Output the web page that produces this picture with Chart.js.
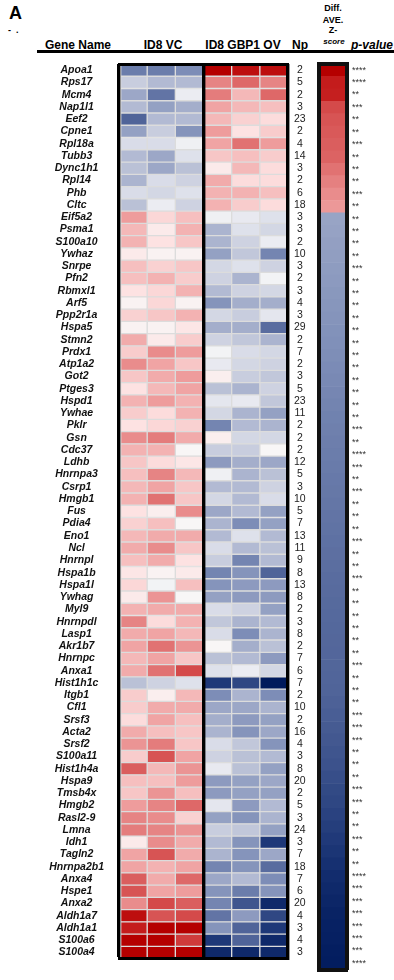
<!DOCTYPE html>
<html>
<head>
<meta charset="utf-8">
<script src="https://cdn.jsdelivr.net/npm/chart.js@4.4.0/dist/chart.umd.min.js"></script>
<style>
  body { margin: 0; background: #fff; font-family: 'Liberation Sans', Arial, Helvetica, sans-serif; }
  #wrap { position: relative; width: 394px; height: 980px; overflow: hidden; }
  .hd { position: absolute; font-weight: bold; font-size: 12px; line-height: 12px; color: #000; white-space: nowrap; transform: translateX(-50%); }
  .sm { font-size: 9px; line-height: 10px; }
  #rule { position: absolute; left: 37px; top: 50px; width: 357px; height: 3px; background: #000; }
  #heat { position: absolute; left: 0; top: 0; }
  #diff { position: absolute; left: 314px; top: 0; }
</style>
</head>
<body>
<div id="wrap">
  <div class="hd" style="top:4px;font-size:18px;line-height:18px;transform:none;left:9px;">A</div>
  <div class="hd" style="left:8px;top:24px;font-size:9px;transform:none;">-&nbsp;&nbsp;.</div>
  <div class="hd" style="left:78px;top:39px;">Gene Name</div>
  <div class="hd" style="left:163px;top:39px;">ID8 VC</div>
  <div class="hd" style="left:243px;top:39px;">ID8 GBP1 OV</div>
  <div class="hd" style="left:300px;top:39px;">Np</div>
  <div class="hd sm" style="left:333px;top:3px;">Diff.</div>
  <div class="hd sm" style="left:333px;top:15px;">AVE.</div>
  <div class="hd sm" style="left:333px;top:25px;">Z-</div>
  <div class="hd sm" style="left:334px;top:37px;font-size:8px;font-style:italic;">score</div>
  <div class="hd" style="left:351px;top:39px;transform:none;font-style:italic;">p-value</div>
  <div id="rule"></div>
  <canvas id="heat" width="314" height="980"></canvas>
  <canvas id="diff" width="80" height="980"></canvas>
</div>
<script>
const genes = ['Apoa1', 'Rps17', 'Mcm4', 'Nap1l1', 'Eef2', 'Cpne1', 'Rpl18a', 'Tubb3', 'Dync1h1', 'Rpl14',
  'Phb', 'Cltc', 'Eif5a2', 'Psma1', 'S100a10', 'Ywhaz', 'Snrpe', 'Pfn2', 'Rbmxl1', 'Arf5',
  'Ppp2r1a', 'Hspa5', 'Stmn2', 'Prdx1', 'Atp1a2', 'Got2', 'Ptges3', 'Hspd1', 'Ywhae', 'Pklr',
  'Gsn', 'Cdc37', 'Ldhb', 'Hnrnpa3', 'Csrp1', 'Hmgb1', 'Fus', 'Pdia4', 'Eno1', 'Ncl',
  'Hnrnpl', 'Hspa1b', 'Hspa1l', 'Ywhag', 'Myl9', 'Hnrnpdl', 'Lasp1', 'Akr1b7', 'Hnrnpc', 'Anxa1',
  'Hist1h1c', 'Itgb1', 'Cfl1', 'Srsf3', 'Acta2', 'Srsf2', 'S100a11', 'Hist1h4a', 'Hspa9', 'Tmsb4x',
  'Hmgb2', 'Rasl2-9', 'Lmna', 'Idh1', 'Tagln2', 'Hnrnpa2b1', 'Anxa4', 'Hspe1', 'Anxa2', 'Aldh1a7',
  'Aldh1a1', 'S100a6', 'S100a4'];

// z-scores per replicate (negative = blue, positive = red)
const vc1 = [-2.2,-1.0,-1.6,-1.3,-2.5,-1.7,-0.7,-1.3,-1.2,-1.4,
  -0.7,-1.2,1.6,1.2,1.3,0.3,1.1,1.1,0.5,0.1,
  0.8,0.1,1.4,0.9,1.8,1.0,0.5,1.3,0.9,0.5,
  1.8,1.3,1.0,1.1,1.2,1.3,0.5,0.8,1.2,1.4,
  1.1,0.4,0.7,0.3,1.3,1.9,1.4,1.5,1.2,1.4,
  -1.2,0.9,0.9,0.6,1.4,1.7,0.9,2.3,1.1,1.0,
  1.6,1.9,2.0,0.3,1.5,1.5,2.3,2.4,1.8,2.9,
  2.8,3.0,3.0];
const vc2 = [-2.2,-1.3,-2.3,-1.7,-1.3,-1.0,-0.7,-1.6,-1.6,-0.7,
  -0.8,-0.3,0.7,0.3,0.5,0.1,0.8,1.3,0.7,0.7,
  1.0,0.1,0.3,1.8,1.5,1.4,1.2,1.6,0.6,0.7,
  2.0,1.3,0.6,1.9,1.5,2.1,0.2,1.1,1.4,1.8,
  1.4,0.1,-0.1,1.7,1.4,0.6,1.5,2.1,1.5,2.1,
  -0.9,0.2,1.4,1.5,1.1,2.0,2.4,1.2,1.1,1.7,
  1.9,1.8,1.9,1.8,2.4,1.3,1.4,1.5,2.5,2.4,
  3.0,3.0,3.0];
const vc3 = [-2.0,-1.3,-0.3,-1.5,-1.3,-1.9,-0.2,-0.6,-1.2,-0.9,
  -0.6,-0.9,1.1,1.3,1.0,0.1,1.0,0.9,1.3,0.1,
  1.3,0.4,0.9,1.6,1.0,1.6,1.5,1.3,1.3,0.8,
  1.4,0.0,0.4,1.2,1.0,1.0,1.8,0.0,1.4,1.0,
  0.5,0.3,1.1,0.0,1.4,1.3,1.2,1.7,1.0,2.5,
  -0.6,1.2,1.4,1.1,1.0,1.0,1.5,1.7,1.6,1.1,
  2.2,0.8,1.7,1.4,1.4,1.5,2.2,1.6,2.3,2.5,
  3.0,2.6,3.0];
const ov1 = [3.0,1.9,2.0,1.5,1.2,1.6,1.5,1.0,0.3,1.4,
  1.3,1.3,-0.2,-1.4,-1.4,-1.7,-0.8,-0.9,-1.3,-1.9,
  -0.8,-1.5,-0.9,-0.1,-0.4,0.2,-1.2,-0.5,-0.8,-2.1,
  0.2,-1.0,-1.8,-0.2,-1.3,-0.8,-1.6,-1.4,-1.3,-0.7,
  -1.0,-2.1,-1.9,-1.7,-0.7,-1.1,-0.7,0.0,-1.2,-0.6,
  -2.8,-2.0,-1.6,-1.5,-1.4,-0.7,-0.9,-0.4,-1.8,-1.8,
  -0.5,-1.7,-1.0,-1.3,-1.4,-2.1,-1.6,-1.9,-2.1,-2.3,
  -1.9,-2.8,-2.9];
const ov2 = [2.9,2.2,1.2,1.2,0.8,0.5,2.1,1.1,1.2,0.6,
  1.3,0.9,-0.4,-0.6,-0.9,-1.1,-0.6,-1.4,-0.9,-1.5,
  -1.0,-1.5,-1.1,-0.7,-0.8,-1.0,-1.4,-0.4,-1.4,-1.3,
  -0.8,-1.0,-1.5,-1.4,-1.3,-1.3,-1.3,-2.0,-0.6,-1.3,
  -2.1,-1.9,-1.8,-1.8,-0.9,-1.4,-2.0,-1.5,-1.3,-0.3,
  -2.7,-1.4,-1.6,-1.8,-1.9,-1.1,-1.2,-1.2,-1.7,-1.7,
  -1.8,-1.9,-1.1,-1.9,-1.9,-1.9,-1.3,-2.2,-2.6,-1.8,
  -2.5,-2.5,-2.9];
const ov3 = [2.9,1.9,2.2,1.1,0.6,0.9,1.6,0.9,0.6,0.6,
  1.1,0.6,-0.6,-0.8,-0.3,-2.1,-0.9,-0.1,-0.8,-1.5,
  -0.5,-2.4,-1.4,-0.8,-0.9,-1.1,-0.9,-1.1,-1.7,-1.4,
  -0.8,0.0,-1.6,-1.2,-0.9,-0.7,-1.7,-1.7,-1.3,-1.2,
  -1.3,-2.5,-1.8,-1.8,-1.7,-1.3,-1.4,-1.2,-1.8,-0.8,
  -3.0,-2.0,-1.4,-1.7,-1.6,-1.9,-1.3,-1.7,-1.6,-1.7,
  -1.3,-1.4,-1.7,-2.8,-1.6,-2.4,-2.0,-1.9,-2.9,-2.7,
  -2.8,-2.9,-2.9];

const np = [2,5,2,3,23,2,4,14,3,2,
  6,18,3,3,2,10,3,2,3,4,
  3,29,2,7,2,3,5,23,11,2,
  2,2,12,5,3,10,5,7,13,11,
  9,8,13,8,2,3,8,2,7,6,
  7,2,10,2,16,4,3,8,20,2,
  5,3,24,3,7,18,7,6,20,4,
  3,4,3];

const diffZ = [3.0,2.8,2.78,2.5,2.4,2.35,2.3,2.25,2.1,1.95,
  1.8,1.65,-1.65,-1.68,-1.72,-1.75,-1.78,-1.81,-1.84,-1.87,
  -1.9,-1.93,-1.96,-1.99,-2.02,-2.05,-2.08,-2.11,-2.14,-2.16,
  -2.18,-2.2,-2.22,-2.24,-2.26,-2.28,-2.3,-2.32,-2.34,-2.36,
  -2.38,-2.4,-2.41,-2.43,-2.44,-2.45,-2.46,-2.47,-2.48,-2.49,
  -2.5,-2.52,-2.54,-2.56,-2.58,-2.6,-2.62,-2.65,-2.68,-2.7,
  -2.73,-2.76,-2.79,-2.82,-2.85,-2.88,-2.9,-2.92,-2.94,-2.95,
  -2.96,-2.97,-2.98];

const pval = ['****','****','**','***','**','**','***','**','**','**',
  '***','**','**','**','**','**','***','**','**','**',
  '**','**','**','**','**','**','**','**','**','***',
  '**','****','***','**','***','**','**','**','***','**',
  '**','***','**','**','**','**','**','**','***','**',
  '**','**','***','***','***','**','**','**','***','***',
  '**','**','***','**','**','****','***','***','***','***',
  '***','***','****'];

// colour ramps
const blueStops = [[0, 246,246,247], [0.5, 228,230,238], [1.0, 200,205,222], [1.5, 164,174,203],
  [2.0, 125,141,183], [2.5, 80,100,153], [2.8, 30,56,120], [3.0, 0,26,92]];
const redStops = [[0, 248,246,246], [0.5, 253,226,226], [1.0, 247,198,198], [1.5, 240,164,164],
  [2.0, 228,124,124], [2.5, 212,74,74], [2.8, 196,28,28], [3.0, 181,0,0]];

function zColor(v) {
  const stops = v < 0 ? blueStops : redStops;
  const a = Math.min(Math.abs(v), 3);
  for (let i = 1; i < stops.length; i++) {
    if (a <= stops[i][0]) {
      const s0 = stops[i - 1], s1 = stops[i];
      const t = (a - s0[0]) / (s1[0] - s0[0]);
      const c = [1, 2, 3].map(j => Math.round(s0[j] + (s1[j] - s0[j]) * t));
      return 'rgb(' + c.join(',') + ')';
    }
  }
  return 'rgb(181,0,0)';
}

Chart.defaults.font.family = "'Liberation Sans', Arial, Helvetica, sans-serif";
const zeroHeight = s => { s.height = 0; };
const hidden = { display: false, drawTicks: false };

new Chart(document.getElementById('heat'), {
  type: 'bar',
  data: {
    labels: genes,
    datasets: [vc1, vc2, vc3, ov1, ov2, ov3].map(col => ({
      data: genes.map(() => 1),
      backgroundColor: col.map(zColor),
      borderColor: '#dcdcdc',
      borderWidth: 1,
      borderSkipped: false,
      barPercentage: 1,
      categoryPercentage: 1,
    })),
  },
  options: {
    indexAxis: 'y',
    responsive: false,
    animation: false,
    devicePixelRatio: 1,
    layout: { padding: { top: 64, bottom: 4, left: 0, right: 0 } },
    plugins: { legend: { display: false }, tooltip: { enabled: false } },
    scales: {
      x: {
        stacked: true, min: 0, max: 6,
        ticks: { display: false, stepSize: 3 },
        grid: { color: '#000', lineWidth: 3.4, z: 1, drawTicks: false },
        border: { display: true, color: '#000', width: 3, z: 1 },
        afterFit: zeroHeight,
      },
      x2: {
        type: 'linear', position: 'top', display: true, min: 0, max: 6,
        ticks: { display: false },
        grid: hidden,
        border: { display: true, color: '#000', width: 3, z: 1 },
        afterFit: zeroHeight,
      },
      y: {
        stacked: true,
        ticks: {
          autoSkip: false, crossAlign: 'center', padding: 15, color: '#111',
          font: { size: 10.5, weight: 'bold', style: 'italic' },
        },
        grid: hidden,
        border: { display: false },
        afterFit: s => { s.width = 119; },
      },
      y2: {
        type: 'category', position: 'right', display: true,
        labels: np.map(String),
        ticks: { autoSkip: false, crossAlign: 'center', padding: 6, color: '#222', font: { size: 10.5 } },
        grid: hidden,
        border: { display: false },
        afterFit: s => { s.width = 26; },
      },
    },
  },
});

new Chart(document.getElementById('diff'), {
  type: 'bar',
  data: {
    labels: genes,
    datasets: [{
      data: genes.map(() => 1),
      backgroundColor: diffZ.map(zColor),
      borderWidth: 0,
      barPercentage: 1,
      categoryPercentage: 1,
    }],
  },
  options: {
    indexAxis: 'y',
    responsive: false,
    animation: false,
    devicePixelRatio: 1,
    layout: { padding: { top: 64, bottom: 4, left: 0, right: 0 } },
    plugins: { legend: { display: false }, tooltip: { enabled: false } },
    scales: {
      x: {
        min: 0, max: 1,
        ticks: { display: false },
        grid: hidden,
        border: { display: true, color: '#111', width: 4, z: 1 },
        afterFit: zeroHeight,
      },
      x2: {
        type: 'linear', position: 'top', display: true, min: 0, max: 1,
        ticks: { display: false },
        grid: hidden,
        border: { display: true, color: '#111', width: 4, z: 1 },
        afterFit: zeroHeight,
      },
      y: {
        ticks: { display: false },
        grid: hidden,
        border: { display: true, color: '#111', width: 4, z: 1 },
        afterFit: s => { s.width = 5; },
      },
      y2: {
        type: 'category', position: 'right', display: true,
        labels: pval,
        ticks: { autoSkip: false, padding: 5, color: '#333', font: { size: 9 } },
        grid: hidden,
        border: { display: true, color: '#111', width: 4, z: 1 },
        afterFit: s => { s.width = 47; },
      },
    },
  },
});
</script>
</body>
</html>
